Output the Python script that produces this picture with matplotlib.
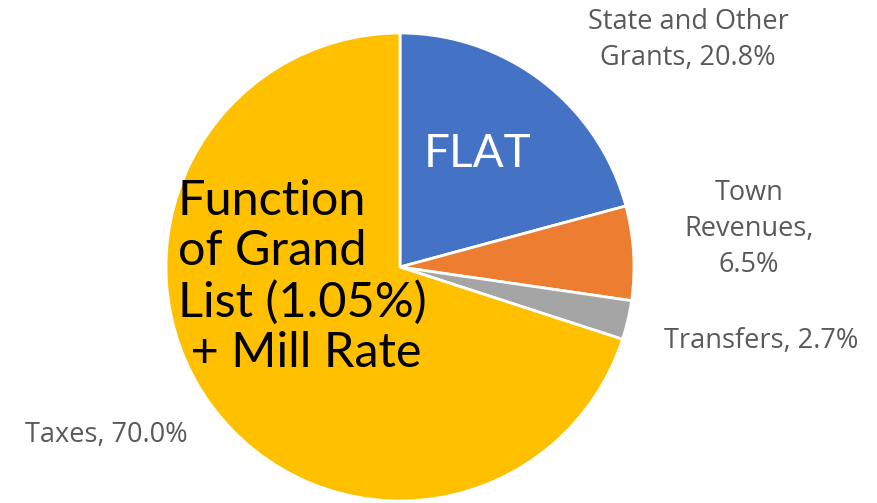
import matplotlib
matplotlib.use("Agg")
from matplotlib import pyplot as plt

# slices, clockwise from 12 o'clock
names = ["State and Other\nGrants", "Town\nRevenues,\n", "Transfers", "Taxes"]
shares = [20.8, 6.5, 2.7, 70.0]
colors = ["#4472C4", "#ED7D31", "#A5A5A5", "#FFC000"]

W, H = 877, 503
fig = plt.figure(figsize=(W / 100, H / 100), dpi=100)
ax = fig.add_axes([0, 0, 1, 1])

ax.pie(shares, colors=colors, startangle=90, counterclock=False,
       center=(400, 236), radius=234, frame=True,
       wedgeprops=dict(edgecolor="white", linewidth=2))
ax.set_xlim(0, W)
ax.set_ylim(0, H)
ax.set_aspect("equal")
ax.axis("off")

lab = dict(color="#595959", fontsize=19.5, family="Open Sans", ha="center", va="center",
           linespacing=1.4)
ax.text(688, 503 - 40, "State and Other\nGrants, %.1f%%" % shares[0], **lab)
ax.text(749, 503 - 229, "Town\nRevenues,\n%.1f%%" % shares[1], **lab)
ax.text(761, 503 - 341, "Transfers, %.1f%%" % shares[2], **lab)
ax.text(106, 503 - 435, "Taxes, %.1f%%" % shares[3], **lab)

ax.text(478, 503 - 154, "FLAT", color="white", fontsize=33, family="Lato",
        ha="center", va="center")
ax.text(178, 503 - 277, "Function\nof Grand\nList (1.05%)\n + Mill Rate", color="black",
        fontsize=35, family="Lato", ha="left", va="center",
        linespacing=1.18)

fig.savefig("out.png", dpi=100)
